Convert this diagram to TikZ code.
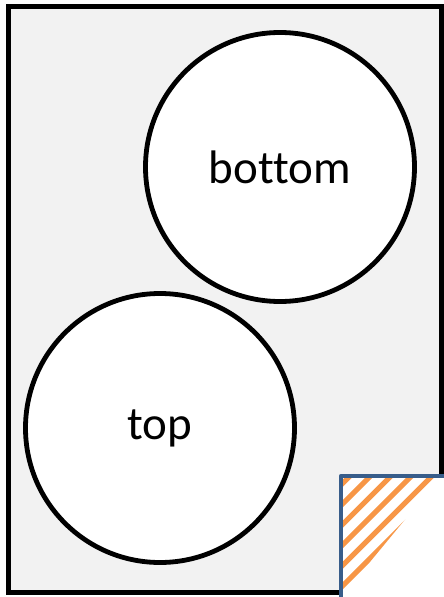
\documentclass[tikz,border=0pt]{standalone}
\usepackage{fontspec}
\setmainfont{Carlito}[Ligatures={NoCommon}]
\definecolor{pagegray}{HTML}{F2F2F2}
\definecolor{foldorange}{HTML}{F79646}
\definecolor{foldblue}{HTML}{385D8A}
\begin{document}
\begin{tikzpicture}[x=1pt,y=-1pt,
  disc/.style={circle,draw=black,line width=4.8pt,fill=white,minimum size=269pt,inner sep=0pt,font=\fontsize{47}{52}\selectfont},
  pageline/.style={line width=5pt,line join=miter,draw=black},
  stripe/.style={foldorange,line width=5pt},
  foldline/.style={foldblue,line width=4.5pt,line join=round}]
\useasboundingbox (0,0) rectangle (444,597);
\fill[white] (0,0) rectangle (444,597);
% page
\fill[pagegray] (8,6.5) -- (441,6.5) -- (441,476) -- (341,476) -- (341,592.5) -- (8,592.5) -- cycle;
\draw[pageline] (341,592.5) -- (8,592.5) -- (8,6.5) -- (441,6.5) -- (441,476);
% folded corner stripes
\begin{scope}
  \clip (341,476) -- (441,476) -- (341,597) -- cycle;
  \foreach \k in {-1,0,...,7} {
    \pgfmathsetmacro{\c}{826+20.5*\k}
    \draw[stripe] (\c-420,420) -- (\c-620,620);
  }
\end{scope}
\draw[foldline] (444,476) -- (341,476) -- (341,597);
% circles
\node[disc] (bottom) at (280,167) {bottom};
\node[disc] (top) at (160,428) {top};
\end{tikzpicture}
\end{document}
